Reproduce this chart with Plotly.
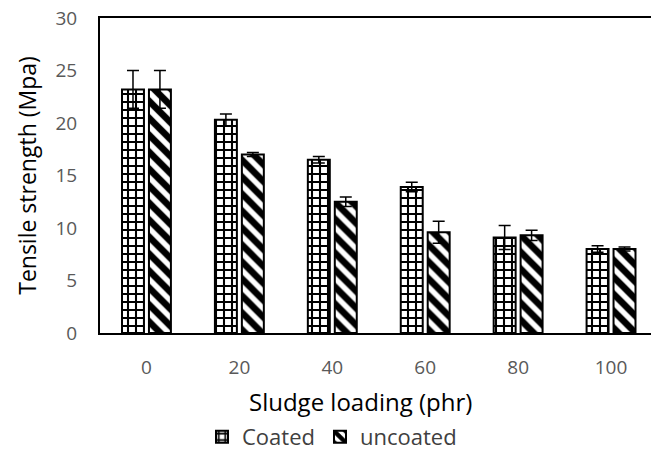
import plotly.graph_objects as go

categories = ["0", "20", "40", "60", "80", "100"]
coated = [23.2, 20.3, 16.5, 13.9, 9.1, 8.0]
coated_err = [1.8, 0.55, 0.3, 0.45, 1.15, 0.3]
uncoated = [23.2, 17.0, 12.5, 9.6, 9.3, 8.0]
uncoated_err = [1.8, 0.2, 0.45, 1.05, 0.48, 0.2]

FONT = "'Open Sans', sans-serif"

fig = go.Figure()
fig.add_trace(go.Bar(
    name="Coated", x=categories, y=coated,
    error_y=dict(type="data", array=coated_err, color="black", thickness=1.5, width=6),
    marker=dict(color="white", line=dict(color="black", width=2),
                pattern=dict(shape="+", fgcolor="black", bgcolor="white", fgopacity=1,
                             size=8, solidity=0.45)),
))
fig.add_trace(go.Bar(
    name="uncoated", x=categories, y=uncoated,
    error_y=dict(type="data", array=uncoated_err, color="black", thickness=1.5, width=6),
    marker=dict(color="white", line=dict(color="black", width=2),
                pattern=dict(shape="\\", fgcolor="black", bgcolor="white", fgopacity=1,
                             size=12, solidity=0.55)),
))

fig.update_layout(
    width=651, height=463,
    margin=dict(l=100, r=0, t=18, b=130),
    paper_bgcolor="white", plot_bgcolor="white",
    barmode="group", bargap=0.42, bargroupgap=0.185,
    font=dict(family=FONT, color="#595959", size=17),
    showlegend=True,
    legend=dict(orientation="h", xref="container", yref="container",
                x=0.51, y=0.056, xanchor="center", yanchor="middle",
                font=dict(size=22, color="#404040"), itemwidth=30,
                traceorder="normal"),
    annotations=[dict(
        text="Sludge loading (phr)", xref="paper", yref="paper",
        x=0.472, y=-0.219, xanchor="center", yanchor="middle", showarrow=False,
        font=dict(size=24, color="black", family=FONT),
    )],
)
fig.update_xaxes(
    type="category", range=[-0.5, 5.43],
    showline=True, linecolor="black", linewidth=2, mirror=True,
    showgrid=False, ticks="", ticklabelstandoff=16,
    tickfont=dict(size=19, color="#595959"),
)
fig.update_yaxes(
    range=[0, 30], dtick=5,
    showline=True, linecolor="black", linewidth=2,
    showgrid=False, zeroline=False, ticks="", ticklabelstandoff=17,
    tickfont=dict(size=19, color="#595959"),
    title=dict(text="Tensile strength (Mpa)", font=dict(size=23, color="black"), standoff=12),
)

fig.write_html("out.html")
